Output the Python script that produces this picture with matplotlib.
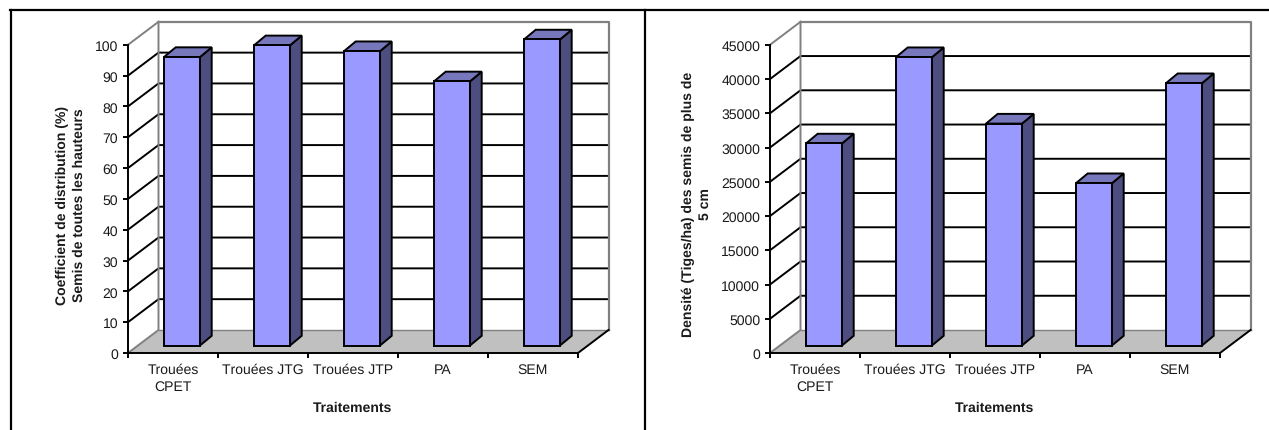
import matplotlib
matplotlib.use("Agg")
import matplotlib.pyplot as plt
from matplotlib.patches import Polygon
from matplotlib.lines import Line2D
from matplotlib.transforms import Affine2D, IdentityTransform

plt.rcParams["font.family"] = ["Liberation Sans", "DejaVu Sans"]
plt.rcParams["text.hinting"] = "no_hinting"
plt.rcParams["text.hinting_factor"] = 1

W, H = 1269, 431

categories = ["Trouées\nCPET", "Trouées JTG", "Trouées JTP", "PA", "SEM"]
coverage_values = [93.6, 97.4, 95.5, 85.7, 99.3]
coverage_ticks = list(range(0, 101, 10))
density_values = [29500, 42100, 32400, 23700, 38300]
density_ticks = list(range(0, 45001, 5000))
x_title = "Traitements"
coverage_title = "Coefficient de distribution (%)\nSemis de toutes les hauteurs"
density_title = "Densité (Tiges/ha) des semis de plus de\n5 cm"

FRONT = "#9999FF"
SIDE = "#4D4D80"
TOP = "#7777BB"
FLOOR = "#C0C0C0"
WALL = "#808080"
LW = 1.4
TEXT = "#1a1a1a"


def draw_panel(fig, left, values, ticks, ymax, ytitle, title_x, title_y):
    bottom_px, height_px, width_px = 354, 308.2, 450
    ax = fig.add_axes([left / W, (H - bottom_px) / H, width_px / W, height_px / H])
    n = len(values)
    ax.set_xlim(0, n)
    ax.set_ylim(0, ymax)
    ax.patch.set_visible(False)
    for side in ("top", "right"):
        ax.spines[side].set_visible(False)
    for side in ("left", "bottom"):
        ax.spines[side].set_linewidth(LW)
        ax.spines[side].set_zorder(6)

    ax.set_yticks(ticks)
    ax.tick_params(axis="y", length=3.6, width=LW, pad=3.5, labelsize=10.2, labelcolor=TEXT)
    ax.set_xticks(range(n + 1))
    ax.set_xticklabels([])
    ax.set_xticks([i + 0.5 for i in range(n)], labels=categories, minor=True)
    ax.tick_params(axis="x", which="major", length=3.6, width=LW)
    ax.tick_params(axis="x", which="minor", length=0, pad=7, labelsize=10.2, labelcolor=TEXT)
    for lab in ax.get_xticklabels(minor=True):
        lab.set_linespacing(1.36)

    depth = (30.5, 23)
    bar_plane = ax.transData + Affine2D().translate(9, 7.5)
    to_px = ax.transData.transform

    # Floor and back wall of the 3-D box
    x0, y0 = to_px((0, 0))
    x1, _ = to_px((n, 0))
    _, ytop = to_px((0, ymax))
    dx, dy = depth
    ident = IdentityTransform()
    ax.add_patch(Polygon([(x0, y0), (x1, y0), (x1 + dx, y0 + dy), (x0 + dx, y0 + dy)],
                         closed=True, fc=FLOOR, ec="none", transform=ident, zorder=1, clip_on=False))
    ax.add_line(Line2D([x0, x0 + dx, x0 + dx], [y0, y0 + dy, ytop + dy], color=WALL, lw=1.4,
                       transform=ident, zorder=3, clip_on=False))
    ax.add_line(Line2D([x0 + dx, x1 + dx, x1 + dx], [ytop + dy, ytop + dy, y0 + dy], color=WALL, lw=1.6,
                       transform=ident, zorder=3, clip_on=False))
    ax.add_line(Line2D([x0 + dx, x1 + dx], [y0 + dy, y0 + dy], color=WALL, lw=1.0,
                       transform=ident, zorder=2, clip_on=False))
    ax.add_line(Line2D([x0, x0 + dx], [ytop, ytop + dy], color=WALL, lw=1.4,
                       transform=ident, zorder=3, clip_on=False))
    ax.add_line(Line2D([x1, x1 + dx], [y0, y0 + dy], color="black", lw=LW,
                       transform=ident, zorder=3, clip_on=False))

    # Gridlines run up the left wall, then along the back wall
    for t in ticks[1:-1]:
        _, yp = to_px((0, t))
        ax.add_line(Line2D([x0, x0 + dx, x1 + dx - 1], [yp, yp + dy, yp + dy], color="black", lw=LW,
                           transform=ident, zorder=2, clip_on=False, solid_joinstyle="miter"))

    # Bars: front face on a plane set in from the axis, side and top faces behind it
    positions = [i + 0.5 for i in range(n)]
    ax.bar(positions, values, width=0.4, color=FRONT, edgecolor="black", linewidth=LW,
           transform=bar_plane, zorder=5, clip_on=False)
    ddx, ddy = 11.7, 9.7
    for p, v in zip(positions, values):
        (xa, yb), (xb, yt) = bar_plane.transform([(p - 0.2, 0), (p + 0.2, v)])
        ax.add_patch(Polygon([(xb, yb), (xb + ddx, yb + ddy), (xb + ddx, yt + ddy), (xb, yt)],
                             closed=True, fc=SIDE, ec="black", lw=LW, transform=ident, zorder=4,
                             clip_on=False, joinstyle="miter"))
        ax.add_patch(Polygon([(xa, yt), (xb, yt), (xb + ddx, yt + ddy), (xa + ddx, yt + ddy)],
                             closed=True, fc=TOP, ec="black", lw=LW, transform=ident, zorder=4,
                             clip_on=False, joinstyle="miter"))

    fig.text((left + 224.5) / W, (H - 408.7) / H, x_title, fontsize=10.2, fontweight="bold",
             ha="center", va="center", color=TEXT)
    fig.text(title_x / W, (H - title_y) / H, ytitle, fontsize=10, fontweight="bold", rotation=90,
             ha="center", va="center", multialignment="center", linespacing=1.4, color=TEXT)


fig = plt.figure(figsize=(W / 100, H / 100), dpi=100, facecolor="white")

draw_panel(fig, 128, coverage_values, coverage_ticks, 100, coverage_title, 71, 205)
draw_panel(fig, 770, density_values, density_ticks, 45000, density_title, 697, 204)

# Table rules around the two charts
frame = dict(color="black", lw=1.6, transform=fig.transFigure, clip_on=False)
fig.add_artist(Line2D([10 / W, 1], [1 - 11 / H, 1 - 11 / H], **frame))
fig.add_artist(Line2D([11 / W, 11 / W], [0, 1 - 11 / H], **frame))
fig.add_artist(Line2D([645 / W, 645 / W], [0, 1 - 11 / H], **frame))

fig.savefig("out.png", dpi=100)
